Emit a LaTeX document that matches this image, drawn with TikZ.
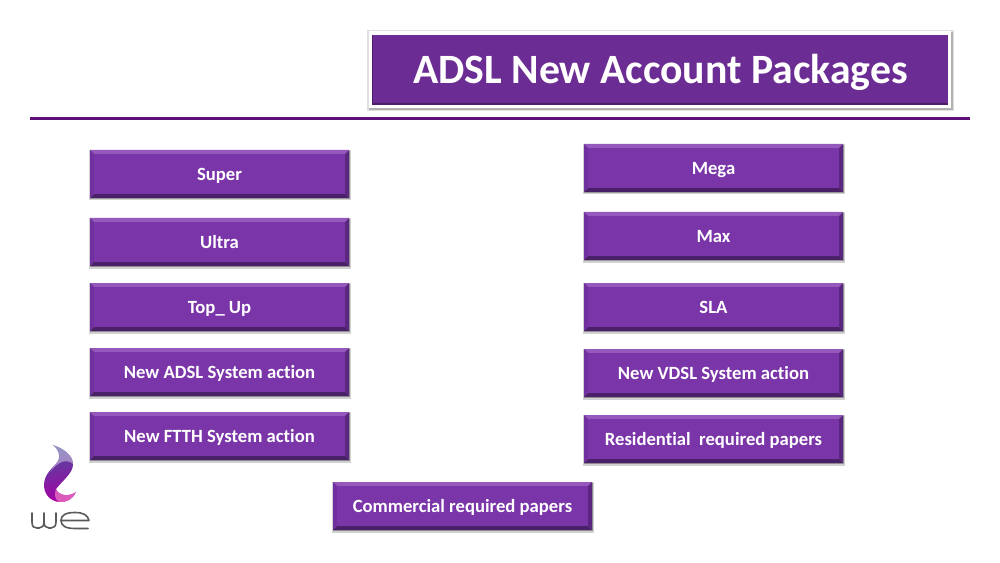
\documentclass[tikz,border=0pt]{standalone}
\usepackage{fontspec}
\setmainfont[Ligatures={NoCommon}]{Carlito}
\definecolor{face}{HTML}{7A35A8}
\definecolor{facetop}{HTML}{9558BC}
\definecolor{faceleft}{HTML}{7030A0}
\definecolor{faceright}{HTML}{5A2680}
\definecolor{facebot}{HTML}{4A2068}
\definecolor{titleface}{HTML}{6B2C94}
\definecolor{rulec}{HTML}{5F0F78}
\definecolor{wegrey}{HTML}{5A5A5A}
\tikzset{
  x=0.75pt,y=-0.75pt,
  facebox/.style={anchor=base,inner sep=0pt,outer sep=0pt,text=white,font=\bfseries\fontsize{14}{16}\selectfont,align=center},
  titlebox/.style={anchor=base,inner sep=0pt,outer sep=0pt,text=white,font=\bfseries\fontsize{31.3}{36}\selectfont},
  rulestyle/.style={draw=rulec,line width=1.9pt},
  weline/.style={draw=wegrey,line width=1.2pt,line cap=round,line join=round},
}
% \bbox{name}{x0}{y0}{x1}{y1}{text}
\newcommand{\bbox}[6]{%
  \fill[black!18] (#2-1,#3) rectangle (#4+2,#5+2.5);
  \fill[black!40] (#2,#3+1) rectangle (#4+1,#5+1.2);
  \fill[facetop] (#2,#3) -- (#4,#3) -- (#4-4,#3+4) -- (#2+4,#3+4) -- cycle;
  \fill[faceleft] (#2,#3) -- (#2+4,#3+4) -- (#2+4,#5-4) -- (#2,#5) -- cycle;
  \fill[faceright] (#4,#3) -- (#4-4,#3+4) -- (#4-4,#5-4) -- (#4,#5) -- cycle;
  \fill[facebot] (#2,#5) -- (#2+4,#5-4) -- (#4-4,#5-4) -- (#4,#5) -- cycle;
  \fill[face] (#2+4,#3+4) rectangle (#4-4,#5-4);
  \node[facebox] (#1) at ({(#2+#4)/2},{#3+30.5}) {#6};
}
\begin{document}
\begin{tikzpicture}
\useasboundingbox (0,0) rectangle (1000,563);
\fill[white] (0,0) rectangle (1000,563);
% title
\fill[black!12] (367,30) rectangle (954,111);
\fill[black!30] (369,32) rectangle (953,110);
\fill[white] (369,31) rectangle (951,108);
\fill[titleface!70!black] (372,35) rectangle (948,105);
\fill[titleface] (372.5,35.5) rectangle (947.5,103.5);
\node[titlebox] (title) at (660.5,84) {ADSL New Account Packages};
\coordinate (ruleL) at (30,118.5);
\coordinate (ruleR) at (970,118.5);
\draw[rulestyle] (ruleL) -- (ruleR);
% left column
\bbox{super}{90}{150}{349}{198}{Super}
\bbox{ultra}{90}{218}{349}{266}{Ultra}
\bbox{topup}{90}{283}{349}{331}{Top\_ Up}
\bbox{adsl}{90}{348}{349}{396}{New ADSL System action}
\bbox{ftth}{90}{412}{349}{460}{New FTTH System action}
% right column
\bbox{mega}{584}{144}{843}{192}{Mega}
\bbox{max}{584}{212}{843}{260}{Max}
\bbox{sla}{584}{283}{843}{331}{SLA}
\bbox{vdsl}{584}{349}{843}{397}{New VDSL System action}
\bbox{resid}{584}{415}{843}{463}{Residential\ \ required papers}
\bbox{comm}{333}{482}{592}{530}{Commercial required papers}
% logo
\shade[top color=blue!45!black!70!white,middle color=violet!70!white,bottom color=magenta!65!black,shading angle=10]
  (53,445) .. controls (65,449) and (73,456) .. (73,464)
  .. controls (73,473) and (64,479) .. (56,489)
  .. controls (59,496) and (69,497) .. (76,492)
  .. controls (73,499) and (66,503) .. (59,502)
  .. controls (50,501) and (44,494) .. (44,485)
  .. controls (44,474) and (53,468) .. (58,461)
  .. controls (61,456) and (58,449) .. (53,445) -- cycle;
\fill[white,opacity=.4] (53,445) .. controls (65,449) and (73,456) .. (73,464)
  .. controls (66,458) and (58,462) .. (50,472)
  .. controls (53,467) and (62,458) .. (53,445) -- cycle;
\fill[magenta!50!white,opacity=.7] (56,489) .. controls (59,496) and (69,497) .. (76,492)
  .. controls (73,499) and (66,503) .. (59,502) .. controls (55,500) and (54,494) .. (56,489) -- cycle;
\draw[weline] (32,513) -- (32,522) .. controls (32,527) and (34,528) .. (37,528)
  -- (39,528) .. controls (42,528) and (44,526) .. (44,522) -- (44,513);
\draw[weline] (44,522) .. controls (44,526) and (46,528) .. (49,528)
  -- (51,528) .. controls (54,528) and (56,526) .. (56,522) -- (56,513);
\draw[weline] (61,520.5) -- (89,520.5) .. controls (88,515) and (83,512.5) .. (75,512.5)
  .. controls (66,512.5) and (61,515) .. (61,520.5)
  .. controls (61,526) and (66,528.5) .. (75,528.5) -- (88,528.5);
\end{tikzpicture}
\end{document}
